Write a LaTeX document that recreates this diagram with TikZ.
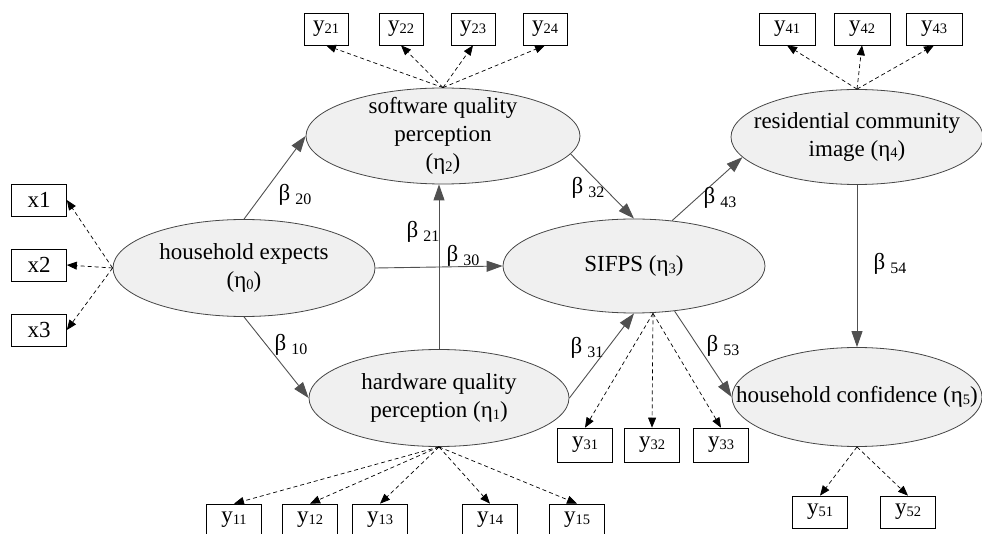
\documentclass[tikz,border=0pt]{standalone}
\usepackage{fontspec}
\setmainfont{Liberation Serif}
\usetikzlibrary{shapes.geometric,arrows.meta}

\definecolor{ellfill}{RGB}{240,240,240}
\definecolor{elledge}{RGB}{70,70,70}
\definecolor{pathgray}{RGB}{80,80,80}

\newcommand{\subs}[1]{\raisebox{-1.5pt}{\fontsize{14.5}{14.5}\selectfont #1}}
\newcommand{\bcoef}[1]{β\hspace{5pt}\raisebox{-4pt}{\fontsize{16}{16}\selectfont #1}}

\begin{document}
\begin{tikzpicture}[x=1pt,y=-1pt,
		font=\fontsize{23}{28}\selectfont,
		latent/.style={ellipse,draw=elledge,line width=0.8pt,fill=ellfill,inner sep=0pt},
		ltext/.style={align=center,inner sep=0pt},
		obs/.style={rectangle,draw,line width=0.7pt,minimum width=55pt,minimum height=32pt,inner sep=0pt},
		effect/.style={draw=pathgray,line width=0.9pt,-{Triangle[length=16pt,width=11pt]}},
		loading/.style={draw,dash pattern=on 4pt off 3pt,line width=0.7pt,-{Triangle[length=10pt,width=8pt]}},
		coef/.style={inner sep=0pt}]
				
				\useasboundingbox (0,0) rectangle (982,534);
				
				% latent variables
				\node[latent,minimum width=262pt,minimum height=97pt] (eta0) at (244,268) {};
				\node[latent,minimum width=274pt,minimum height=96pt] (eta2) at (443,136) {};
				\node[latent,minimum width=260pt,minimum height=97pt] (eta1) at (439,398) {};
				\node[latent,minimum width=262pt,minimum height=94pt] (eta3) at (634,266) {};
				\node[latent,minimum width=252pt,minimum height=95pt] (eta4) at (857,137) {};
				\node[latent,minimum width=250pt,minimum height=99pt] (eta5) at (857,397) {};
				
				\node[ltext] (eta0t) at (eta0) {household expects\\(η\subs{0})};
				\node[ltext] (eta2t) at (eta2) {software quality\\perception\\(η\subs{2})};
				\node[ltext] (eta1t) at (eta1) {hardware quality\\perception (η\subs{1})};
				\node[ltext] (eta3t) at (eta3) {SIFPS (η\subs{3})};
				\node[ltext] (eta4t) at (eta4) {residential community\\image (η\subs{4})};
				\node[ltext] (eta5t) at (eta5) {household confidence (η\subs{5})};
				
				% indicators
				\node[obs] (x1) at (39,200) {x1};
				\node[obs] (x2) at (39,265) {x2};
				\node[obs] (x3) at (39,330) {x3};
				
				\node[obs,minimum width=44pt] (y21) at (326,29) {y\subs{21}};
				\node[obs,minimum width=44pt] (y22) at (401,29) {y\subs{22}};
				\node[obs,minimum width=44pt] (y23) at (473,29) {y\subs{23}};
				\node[obs,minimum width=44pt] (y24) at (545,29) {y\subs{24}};
				
				\node[obs,minimum width=56pt] (y41) at (787,29) {y\subs{41}};
				\node[obs,minimum width=56pt] (y42) at (862,29) {y\subs{42}};
				\node[obs,minimum width=56pt] (y43) at (934,29) {y\subs{43}};
				
				\node[obs,minimum height=34pt] (y31) at (585,445) {y\subs{31}};
				\node[obs,minimum height=34pt] (y32) at (652,445) {y\subs{32}};
				\node[obs,minimum height=34pt] (y33) at (721,445) {y\subs{33}};
				
				\node[obs] (y51) at (820,512) {y\subs{51}};
				\node[obs] (y52) at (908,512) {y\subs{52}};
				
				\node[obs] (y11) at (234,520) {y\subs{11}};
				\node[obs] (y12) at (310,520) {y\subs{12}};
				\node[obs] (y13) at (380,520) {y\subs{13}};
				\node[obs] (y14) at (490,520) {y\subs{14}};
				\node[obs] (y15) at (577,520) {y\subs{15}};
				
				% structural paths
				\draw[effect] (eta0.north) -- (eta2.west);
				\draw[effect] (eta0.south) -- (eta1.west);
				\draw[effect] (eta0.east) -- (eta3.west);
				\draw[effect] (eta1.north) -- (eta1.north |- eta2.south);
				\draw[effect] (eta2.-8) -- (eta3.north);
				\draw[effect] (eta1.east) -- (eta3.south);
				\draw[effect] (eta3.50) -- (eta4.190);
				\draw[effect] (eta3.-48) -- (eta5.west);
				\draw[effect] (eta4.south) -- (eta4.south |- eta5.north);
				
				\node[coef] (b20) at (295,195) {\bcoef{20}};
				\node[coef] (b10) at (291,345) {\bcoef{10}};
				\node[coef] (b21) at (423,232) {\bcoef{21}};
				\node[coef] (b30) at (463,256) {\bcoef{30}};
				\node[coef] (b32) at (588,188) {\bcoef{32}};
				\node[coef] (b31) at (587,348) {\bcoef{31}};
				\node[coef] (b43) at (720,198) {\bcoef{43}};
				\node[coef] (b53) at (723,346) {\bcoef{53}};
				\node[coef] (b54) at (890,264) {\bcoef{54}};
				
				% measurement paths
				\draw[loading] (eta0.west) -- (x1.east);
				\draw[loading] (eta0.west) -- (x2.east);
				\draw[loading] (eta0.west) -- (x3.east);
				
				\draw[loading] (eta2.north) -- (y21.south);
				\draw[loading] (eta2.north) -- (y22.south);
				\draw[loading] (eta2.north) -- (y23.south);
				\draw[loading] (eta2.north) -- (y24.south);
				
				\draw[loading] (eta4.north) -- (y41.south);
				\draw[loading] (eta4.north) -- (y42.south);
				\draw[loading] (eta4.north) -- (y43.south);
				
				\coordinate (eta3b) at ([xshift=19pt]eta3.south);
				\draw[loading] (eta3b) -- (y31.north);
				\draw[loading] (eta3b) -- (y32.north);
				\draw[loading] (eta3b) -- (y33.north);
				
				\draw[loading] (eta5.south) -- (y51.north);
				\draw[loading] (eta5.south) -- (y52.north);
				
				\draw[loading] (eta1.south) -- (y11.north);
				\draw[loading] (eta1.south) -- (y12.north);
				\draw[loading] (eta1.south) -- (y13.north);
				\draw[loading] (eta1.south) -- (y14.north);
				\draw[loading] (eta1.south) -- (y15.north);
				
			\end{tikzpicture}
\end{document}
